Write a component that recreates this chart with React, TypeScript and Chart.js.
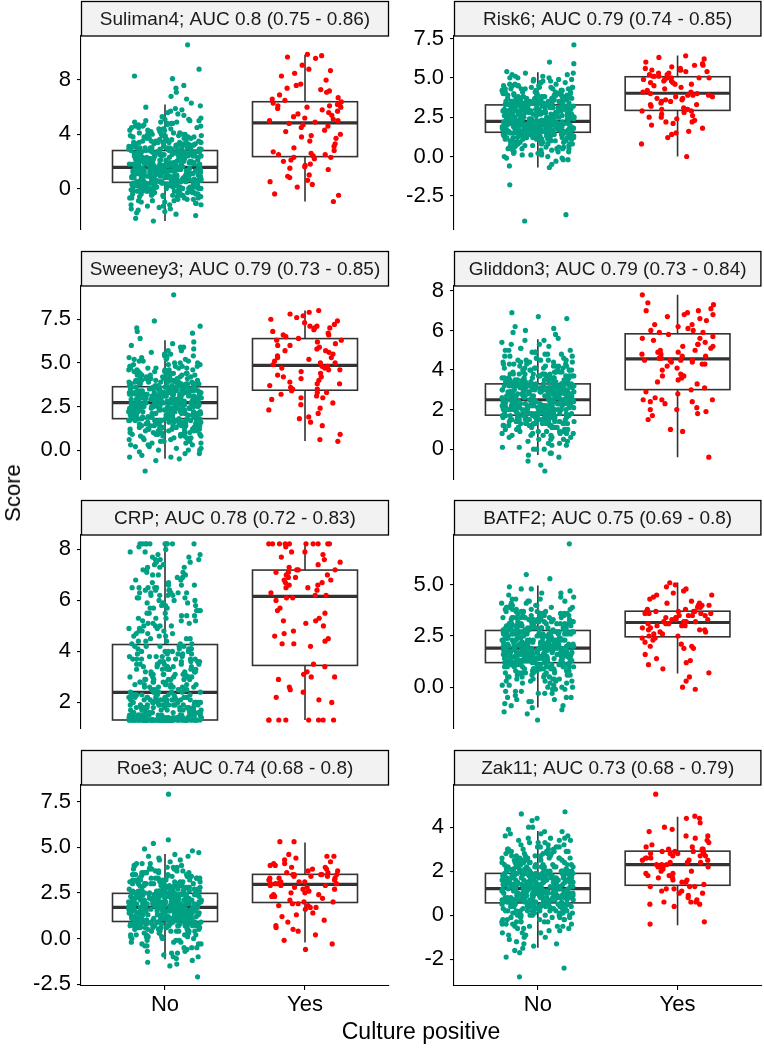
import React, { useEffect, useRef } from "react";
import { Chart, registerables } from "chart.js";

Chart.register(...registerables);

const FONT = "'Liberation Sans', Arial, Helvetica, sans-serif";

const groups = ["No", "Yes"];
const panelTitles = [
  "Suliman4; AUC 0.8 (0.75 - 0.86)",
  "Risk6; AUC 0.79 (0.74 - 0.85)",
  "Sweeney3; AUC 0.79 (0.73 - 0.85)",
  "Gliddon3; AUC 0.79 (0.73 - 0.84)",
  "CRP; AUC 0.78 (0.72 - 0.83)",
  "BATF2; AUC 0.75 (0.69 - 0.8)",
  "Roe3; AUC 0.74 (0.68 - 0.8)",
  "Zak11; AUC 0.73 (0.68 - 0.79)",
];

const yTickValues = [
  [0, 4, 8],
  [-2.5, 0, 2.5, 5, 7.5],
  [0, 2.5, 5, 7.5],
  [0, 2, 4, 6, 8],
  [2, 4, 6, 8],
  [0, 2.5, 5],
  [-2.5, 0, 2.5, 5, 7.5],
  [-2, 0, 2, 4],
];
const yTickLabels = [
  ["0", "4", "8"],
  ["-2.5", "0.0", "2.5", "5.0", "7.5"],
  ["0.0", "2.5", "5.0", "7.5"],
  ["0", "2", "4", "6", "8"],
  ["2", "4", "6", "8"],
  ["0.0", "2.5", "5.0"],
  ["-2.5", "0.0", "2.5", "5.0", "7.5"],
  ["-2", "0", "2", "4"],
];

// [lower whisker, Q1, median, Q3, upper whisker]
const boxNo = [
  [-2.4, 0.45, 1.56, 2.8, 6.2],
  [-0.7, 1.54, 2.23, 3.28, 5.35],
  [-0.5, 1.8, 2.72, 3.63, 6.3],
  [-0.29, 1.72, 2.5, 3.3, 5.56],
  [1.31, 1.31, 2.39, 4.27, 8.22],
  [-0.99, 1.2, 1.91, 2.77, 4.96],
  [-1.13, 0.93, 1.7, 2.47, 4.62],
  [-1.48, 0.56, 1.21, 1.9, 3.82],
];
const boxYes = [
  [-0.96, 2.35, 4.84, 6.4, 9.85],
  [0.0, 2.93, 4.02, 5.07, 6.42],
  [0.52, 3.43, 4.85, 6.39, 8.0],
  [-0.41, 3.01, 4.56, 5.83, 7.8],
  [1.31, 3.45, 6.16, 7.19, 8.22],
  [0.67, 2.46, 3.16, 3.71, 5.11],
  [-0.22, 1.97, 2.96, 3.51, 5.26],
  [-0.45, 1.36, 2.3, 2.91, 4.47],
];

const suliman4No = [
-2.4,-2.2,-2.0,-1.8,-1.7,-1.6,-1.5,-1.4,-1.3,-1.3,-1.2,-1.2,-1.1,-1.0,-1.0,-0.9,-0.9,-0.8,-0.8,-0.7,
-0.7,-0.7,-0.6,-0.6,-0.6,-0.5,-0.5,-0.5,-0.4,-0.4,-0.4,-0.3,-0.3,-0.3,-0.3,-0.2,-0.2,-0.2,-0.2,-0.1,
-0.1,-0.1,-0.1,0,0,0,0,0,0.1,0.1,0.1,0.1,0.1,0.2,0.2,0.2,0.2,0.2,0.3,0.3,
0.3,0.3,0.3,0.3,0.4,0.4,0.4,0.4,0.4,0.4,0.5,0.5,0.5,0.5,0.5,0.6,0.6,0.6,0.6,0.6,
0.6,0.6,0.7,0.7,0.7,0.7,0.7,0.7,0.7,0.8,0.8,0.8,0.8,0.8,0.8,0.8,0.9,0.9,0.9,0.9,
0.9,0.9,0.9,1.0,1.0,1.0,1.0,1.0,1.0,1.0,1.1,1.1,1.1,1.1,1.1,1.1,1.1,1.2,1.2,1.2,
1.2,1.2,1.2,1.2,1.3,1.3,1.3,1.3,1.3,1.3,1.3,1.4,1.4,1.4,1.4,1.4,1.4,1.4,1.5,1.5,
1.5,1.5,1.5,1.5,1.6,1.6,1.6,1.6,1.6,1.6,1.7,1.7,1.7,1.7,1.7,1.7,1.7,1.8,1.8,1.8,
1.8,1.8,1.8,1.8,1.9,1.9,1.9,1.9,1.9,1.9,1.9,2.0,2.0,2.0,2.0,2.0,2.0,2.0,2.1,2.1,
2.1,2.1,2.1,2.1,2.2,2.2,2.2,2.2,2.2,2.2,2.3,2.3,2.3,2.3,2.3,2.3,2.4,2.4,2.4,2.4,
2.4,2.4,2.5,2.5,2.5,2.5,2.5,2.5,2.6,2.6,2.6,2.6,2.6,2.6,2.7,2.7,2.7,2.7,2.7,2.7,
2.8,2.8,2.8,2.8,2.8,2.9,2.9,2.9,2.9,2.9,3.0,3.0,3.0,3.0,3.0,3.1,3.1,3.1,3.1,3.2,
3.2,3.2,3.2,3.3,3.3,3.3,3.3,3.4,3.4,3.4,3.4,3.5,3.5,3.5,3.6,3.6,3.6,3.7,3.7,3.7,
3.8,3.8,3.8,3.9,3.9,3.9,4.0,4.0,4.0,4.1,4.1,4.2,4.2,4.3,4.3,4.4,4.4,4.5,4.5,4.6,
4.6,4.7,4.7,4.8,4.8,4.9,4.9,5.0,5.0,5.1,5.2,5.3,5.5,5.7,5.8,5.9,6.0,6.1,6.3,6.6,
6.8,7.1,7.4,7.6,8.1,8.3,8.8,10.6,
-1.9,-1.5,-1.2,-1.1,-0.9,-0.8,-0.7,-0.6,-0.5,-0.5,-0.4,-0.4,-0.3,-0.3,-0.2,-0.2,-0.2,-0.1,-0.1,-0.1,
0,0,0,0.1,0.1,0.1,0.1,0.2,0.2,0.2,0.2,0.3,0.3,0.3,0.3,0.3,0.4,0.4,0.4,0.4,0.4,0.5,0.5,0.5,0.5,
0.6,0.6,0.6,0.6,0.7,0.7,0.7,0.7,0.8,0.8,0.8,0.8,0.9,0.9,0.9,0.9,1.0,1.0,1.0,1.0,
1.1,1.1,1.1,1.1,1.2,1.2,1.2,1.2,1.3,1.3,1.3,1.3,1.4,1.4,1.4,1.4,1.5,1.5,1.5,1.5,1.1,1.2,1.3,1.4,1.5,
1.6,1.6,1.6,1.7,1.7,1.7,1.8,1.8,1.8,1.9,1.9,1.9,2.0,2.0,2.0,2.1,2.1,2.1,2.2,2.2,2.2,
2.3,2.3,2.3,2.4,2.4,2.4,2.5,2.5,2.5,2.6,2.6,2.6,2.7,2.7,2.7,2.8,2.8,2.8,1.7,1.9,2.1,2.3,2.5,2.7,
2.9,2.9,2.9,3.0,3.0,3.0,3.1,3.1,3.1,3.2,3.2,3.2,3.3,3.3,3.4,3.4,3.5,3.5,3.6,3.6,3.7,3.7,
3.8,3.8,3.9,3.9,4.0,4.0,4.1,4.2,4.3,4.4,4.5,4.6,4.7,4.8,4.9,5.0,5.1,5.4,3.0,3.2,3.4,3.6,5.6,
];
const suliman4Yes = [
-0.96,-0.5,-0.4,0.1,0.3,0.5,0.6,0.8,0.9,1.0,1.4,1.5,1.6,1.7,1.8,2.0,2.1,2.2,2.3,2.3,
2.4,2.5,2.5,2.6,2.7,2.8,3.0,3.1,3.3,3.5,3.7,3.8,3.9,4.0,4.2,4.3,4.5,4.6,4.7,4.8,
4.9,5.0,5.0,5.1,5.2,5.3,5.4,5.5,5.6,5.7,5.8,5.9,6.0,6.0,6.1,6.1,6.2,6.3,6.3,6.4,
6.5,6.6,6.7,6.9,7.1,7.2,7.3,7.4,7.6,7.7,8.0,8.3,8.5,8.7,8.8,9.1,9.6,9.7,9.8,9.9,
];

const risk6No = [
-4.1,-3.7,-1.8,-0.7,-0.6,-0.3,-0.2,-0.1,-0.1,0,0.1,0.1,0.2,0.2,0.3,0.3,0.4,0.4,0.5,0.5,
0.5,0.6,0.6,0.6,0.7,0.7,0.7,0.8,0.8,0.8,0.8,0.9,0.9,0.9,0.9,1.0,1.0,1.0,1.0,1.0,
1.1,1.1,1.1,1.1,1.1,1.2,1.2,1.2,1.2,1.2,1.2,1.3,1.3,1.3,1.3,1.3,1.3,1.4,1.4,1.4,
1.4,1.4,1.4,1.5,1.5,1.5,1.5,1.5,1.5,1.5,1.6,1.6,1.6,1.6,1.6,1.6,1.6,1.6,1.6,1.6,
1.6,1.7,1.7,1.7,1.7,1.7,1.7,1.7,1.7,1.7,1.7,1.7,1.8,1.8,1.8,1.8,1.8,1.8,1.8,1.8,
1.8,1.8,1.8,1.9,1.9,1.9,1.9,1.9,1.9,1.9,1.9,1.9,1.9,1.9,2.0,2.0,2.0,2.0,2.0,2.0,
2.0,2.0,2.0,2.0,2.0,2.1,2.1,2.1,2.1,2.1,2.1,2.1,2.1,2.1,2.1,2.2,2.2,2.2,2.2,2.2,
2.2,2.2,2.2,2.2,2.2,2.3,2.3,2.3,2.3,2.3,2.3,2.3,2.4,2.4,2.4,2.4,2.4,2.4,2.4,2.5,
2.5,2.5,2.5,2.5,2.5,2.5,2.6,2.6,2.6,2.6,2.6,2.6,2.6,2.7,2.7,2.7,2.7,2.7,2.7,2.7,
2.8,2.8,2.8,2.8,2.8,2.8,2.8,2.9,2.9,2.9,2.9,2.9,2.9,2.9,3.0,3.0,3.0,3.0,3.0,3.0,
3.0,3.1,3.1,3.1,3.1,3.1,3.1,3.2,3.2,3.2,3.2,3.2,3.2,3.3,3.3,3.3,3.3,3.3,3.3,3.4,
3.4,3.4,3.4,3.4,3.4,3.5,3.5,3.5,3.5,3.5,3.5,3.6,3.6,3.6,3.6,3.6,3.7,3.7,3.7,3.7,
3.7,3.8,3.8,3.8,3.8,3.8,3.9,3.9,3.9,3.9,3.9,4.0,4.0,4.0,4.0,4.1,4.1,4.1,4.1,4.2,
4.2,4.2,4.2,4.3,4.3,4.3,4.3,4.4,4.4,4.4,4.5,4.5,4.5,4.6,4.6,4.7,4.7,4.8,4.8,4.9,
4.9,5.0,5.0,5.1,5.1,5.2,5.3,5.4,5.9,6.0,7.1,
-0.5,-0.2,0,0.1,0.2,0.3,0.4,0.5,0.5,0.6,0.6,0.7,0.7,0.8,0.8,0.9,0.9,0.9,1.0,1.0,
1.0,1.1,1.1,1.1,1.2,1.2,1.2,1.2,1.3,1.3,1.3,1.3,1.4,1.4,1.4,1.4,1.4,1.5,1.5,1.5,1.5,1.5,1.2,1.3,1.4,
1.6,1.6,1.6,1.6,1.6,1.6,1.7,1.7,1.7,1.7,1.7,1.7,1.8,1.8,1.8,1.8,1.8,1.8,1.9,1.9,1.9,1.9,1.9,1.9,
2.0,2.0,2.0,2.0,2.0,2.0,2.1,2.1,2.1,2.1,2.1,2.1,2.2,2.2,2.2,2.2,2.2,2.2,1.8,1.9,2.0,
2.3,2.3,2.3,2.3,2.4,2.4,2.4,2.4,2.5,2.5,2.5,2.5,2.6,2.6,2.6,2.6,2.7,2.7,2.7,2.7,
2.8,2.8,2.8,2.8,2.9,2.9,2.9,2.9,3.0,3.0,3.0,3.0,3.1,3.1,3.1,3.1,3.2,3.2,3.2,3.2,2.4,2.6,2.8,3.0,3.2,
3.3,3.3,3.3,3.3,3.4,3.4,3.4,3.4,3.5,3.5,3.5,3.6,3.6,3.6,3.7,3.7,3.7,3.8,3.8,3.8,3.9,3.9,3.9,
4.0,4.0,4.1,4.1,4.2,4.2,4.3,4.3,4.4,4.4,4.5,4.5,4.6,4.7,4.8,4.9,5.0,5.2,5.3,3.5,3.7,4.0,
];
const risk6Yes = [
0.0,0.8,1.2,1.4,1.5,1.6,1.8,2.0,2.1,2.2,2.2,2.3,2.4,2.5,2.5,2.6,2.7,2.8,2.9,2.9,
3.0,3.0,3.1,3.2,3.3,3.3,3.4,3.5,3.5,3.6,3.6,3.7,3.7,3.8,3.8,3.9,3.9,3.9,4.0,4.0,
4.1,4.1,4.2,4.3,4.4,4.5,4.6,4.6,4.7,4.7,4.8,4.8,4.9,4.9,5.0,5.0,5.0,5.0,5.1,5.1,
5.1,5.2,5.2,5.3,5.3,5.4,5.4,5.5,5.5,5.5,5.6,5.6,5.7,5.8,5.8,5.9,6.0,6.2,6.3,6.4,
];

const sweeney3No = [
-1.2,-0.6,-0.5,-0.4,-0.3,-0.2,-0.1,0,0,0.1,0.2,0.2,0.3,0.3,0.4,0.4,0.5,0.5,0.6,0.6,
0.6,0.7,0.7,0.8,0.8,0.8,0.9,0.9,0.9,1.0,1.0,1.0,1.1,1.1,1.1,1.2,1.2,1.2,1.2,1.3,
1.3,1.3,1.3,1.4,1.4,1.4,1.4,1.4,1.5,1.5,1.5,1.5,1.5,1.6,1.6,1.6,1.6,1.6,1.7,1.7,
1.7,1.7,1.7,1.7,1.8,1.8,1.8,1.8,1.8,1.8,1.9,1.9,1.9,1.9,1.9,1.9,1.9,1.9,2.0,2.0,
2.0,2.0,2.0,2.0,2.0,2.0,2.1,2.1,2.1,2.1,2.1,2.1,2.1,2.1,2.2,2.2,2.2,2.2,2.2,2.2,
2.2,2.2,2.3,2.3,2.3,2.3,2.3,2.3,2.3,2.3,2.4,2.4,2.4,2.4,2.4,2.4,2.4,2.4,2.5,2.5,
2.5,2.5,2.5,2.5,2.5,2.5,2.5,2.6,2.6,2.6,2.6,2.6,2.6,2.6,2.6,2.6,2.7,2.7,2.7,2.7,
2.7,2.7,2.7,2.7,2.7,2.8,2.8,2.8,2.8,2.8,2.8,2.8,2.8,2.8,2.9,2.9,2.9,2.9,2.9,2.9,
2.9,2.9,2.9,3.0,3.0,3.0,3.0,3.0,3.0,3.0,3.0,3.1,3.1,3.1,3.1,3.1,3.1,3.1,3.1,3.2,
3.2,3.2,3.2,3.2,3.2,3.2,3.2,3.3,3.3,3.3,3.3,3.3,3.3,3.3,3.3,3.4,3.4,3.4,3.4,3.4,
3.4,3.4,3.4,3.5,3.5,3.5,3.5,3.5,3.5,3.5,3.5,3.6,3.6,3.6,3.6,3.6,3.6,3.6,3.6,3.7,
3.7,3.7,3.7,3.7,3.7,3.8,3.8,3.8,3.8,3.8,3.8,3.9,3.9,3.9,3.9,3.9,4.0,4.0,4.0,4.0,
4.0,4.1,4.1,4.1,4.1,4.1,4.2,4.2,4.2,4.2,4.3,4.3,4.3,4.3,4.4,4.4,4.4,4.4,4.5,4.5,
4.5,4.6,4.6,4.6,4.7,4.7,4.7,4.8,4.8,4.8,4.9,4.9,5.0,5.0,5.1,5.1,5.2,5.2,5.3,5.3,
5.4,5.4,5.5,5.6,5.7,5.8,5.9,6.0,6.2,6.4,6.7,6.8,7.0,7.1,7.4,8.9,
-0.4,-0.2,0,0.1,0.3,0.4,0.5,0.6,0.7,0.7,0.8,0.8,0.9,0.9,1.0,1.0,1.1,1.1,1.1,1.2,
1.2,1.2,1.3,1.3,1.3,1.4,1.4,1.4,1.4,1.5,1.5,1.5,1.5,1.6,1.6,1.6,1.6,1.7,1.7,1.7,1.7,1.8,1.8,1.8,1.8,
1.9,1.9,1.9,1.9,1.9,2.0,2.0,2.0,2.0,2.0,2.1,2.1,2.1,2.1,2.1,2.2,2.2,2.2,2.2,2.2,
2.3,2.3,2.3,2.3,2.3,2.4,2.4,2.4,2.4,2.4,2.5,2.5,2.5,2.5,2.5,2.6,2.6,2.6,2.6,2.6,2.7,2.7,2.7,2.7,2.7,
2.8,2.8,2.8,2.8,2.8,2.9,2.9,2.9,2.9,2.9,3.0,3.0,3.0,3.0,3.0,3.1,3.1,3.1,3.1,3.1,
3.2,3.2,3.2,3.2,3.2,3.3,3.3,3.3,3.3,3.3,3.4,3.4,3.4,3.4,3.4,3.5,3.5,3.5,3.5,3.5,3.6,3.6,3.6,3.6,3.6,
3.7,3.7,3.7,3.7,3.8,3.8,3.8,3.8,3.9,3.9,3.9,4.0,4.0,4.0,4.1,4.1,4.1,4.2,4.2,4.2,
4.3,4.3,4.4,4.4,4.5,4.5,4.6,4.6,4.7,4.7,4.8,4.8,4.9,5.0,5.1,5.2,5.3,5.4,5.5,5.7,5.9,6.1,3.9,4.1,4.4,
];
const sweeney3Yes = [
0.5,0.6,0.9,1.4,1.6,1.8,1.9,2.1,2.3,2.4,2.6,2.7,2.9,3.0,3.0,3.1,3.2,3.3,3.3,3.4,
3.5,3.5,3.6,3.7,3.8,3.8,3.9,4.0,4.1,4.2,4.2,4.3,4.4,4.5,4.6,4.6,4.7,4.7,4.8,4.8,
4.9,5.0,5.0,5.1,5.2,5.3,5.3,5.4,5.5,5.6,5.7,5.7,5.8,5.9,6.0,6.0,6.1,6.2,6.3,6.3,
6.4,6.5,6.6,6.6,6.7,6.8,6.9,7.0,7.0,7.1,7.1,7.2,7.3,7.4,7.5,7.6,7.7,7.8,7.9,8.0,
];

const gliddon3No = [
-1.1,-0.8,-0.6,-0.4,-0.3,-0.2,0,0,0.1,0.1,0.2,0.3,0.4,0.4,0.5,0.5,0.6,0.6,0.7,0.7,
0.7,0.8,0.8,0.8,0.9,0.9,0.9,1.0,1.0,1.0,1.0,1.1,1.1,1.1,1.1,1.2,1.2,1.2,1.2,1.2,
1.3,1.3,1.3,1.3,1.3,1.4,1.4,1.4,1.4,1.4,1.4,1.5,1.5,1.5,1.5,1.5,1.5,1.6,1.6,1.6,
1.6,1.6,1.6,1.6,1.7,1.7,1.7,1.7,1.7,1.7,1.7,1.8,1.8,1.8,1.8,1.8,1.8,1.8,1.8,1.8,
1.9,1.9,1.9,1.9,1.9,1.9,1.9,1.9,1.9,2.0,2.0,2.0,2.0,2.0,2.0,2.0,2.0,2.0,2.0,2.1,
2.1,2.1,2.1,2.1,2.1,2.1,2.1,2.1,2.1,2.2,2.2,2.2,2.2,2.2,2.2,2.2,2.2,2.2,2.2,2.3,
2.3,2.3,2.3,2.3,2.3,2.3,2.3,2.3,2.4,2.4,2.4,2.4,2.4,2.4,2.4,2.4,2.4,2.5,2.5,2.5,
2.5,2.5,2.5,2.5,2.5,2.5,2.6,2.6,2.6,2.6,2.6,2.6,2.6,2.6,2.6,2.6,2.7,2.7,2.7,2.7,
2.7,2.7,2.7,2.7,2.7,2.7,2.8,2.8,2.8,2.8,2.8,2.8,2.8,2.8,2.8,2.8,2.9,2.9,2.9,2.9,
2.9,2.9,2.9,2.9,2.9,3.0,3.0,3.0,3.0,3.0,3.0,3.0,3.0,3.0,3.1,3.1,3.1,3.1,3.1,3.1,
3.1,3.1,3.1,3.2,3.2,3.2,3.2,3.2,3.2,3.2,3.2,3.2,3.3,3.3,3.3,3.3,3.3,3.3,3.3,3.3,
3.3,3.4,3.4,3.4,3.4,3.4,3.4,3.5,3.5,3.5,3.5,3.5,3.5,3.6,3.6,3.6,3.6,3.6,3.7,3.7,
3.7,3.7,3.7,3.8,3.8,3.8,3.8,3.8,3.9,3.9,3.9,3.9,4.0,4.0,4.0,4.0,4.1,4.1,4.1,4.1,
4.2,4.2,4.2,4.3,4.3,4.3,4.4,4.4,4.4,4.5,4.5,4.5,4.6,4.6,4.7,4.7,4.8,4.8,4.9,4.9,
5.0,5.0,5.1,5.2,5.3,5.4,5.5,5.6,5.8,5.9,6.0,6.1,6.2,6.6,6.7,6.9,
-0.2,0,0.2,0.3,0.5,0.6,0.7,0.8,0.8,0.9,0.9,1.0,1.0,1.1,1.1,1.1,1.2,1.2,1.2,1.3,
1.3,1.3,1.3,1.4,1.4,1.4,1.4,1.5,1.5,1.5,1.5,1.5,1.6,1.6,1.6,1.6,1.6,1.7,1.7,1.7,1.7,1.7,1.6,1.5,1.4,
1.8,1.8,1.8,1.8,1.8,1.9,1.9,1.9,1.9,1.9,2.0,2.0,2.0,2.0,2.0,2.1,2.1,2.1,2.1,2.1,
2.2,2.2,2.2,2.2,2.2,2.3,2.3,2.3,2.3,2.3,2.4,2.4,2.4,2.4,2.4,2.5,2.5,2.5,2.5,2.5,1.9,2.1,2.2,2.3,2.4,
2.6,2.6,2.6,2.6,2.6,2.7,2.7,2.7,2.7,2.7,2.8,2.8,2.8,2.8,2.8,2.9,2.9,2.9,2.9,2.9,
3.0,3.0,3.0,3.0,3.0,3.1,3.1,3.1,3.1,3.1,3.2,3.2,3.2,3.2,3.2,3.3,3.3,3.3,3.3,3.3,2.7,2.8,2.9,3.0,3.1,
3.4,3.4,3.4,3.4,3.5,3.5,3.5,3.5,3.6,3.6,3.6,3.7,3.7,3.7,3.8,3.8,3.8,3.9,3.9,3.9,
4.0,4.0,4.1,4.1,4.2,4.2,4.3,4.3,4.4,4.4,4.5,4.5,4.6,4.7,4.8,4.9,5.0,5.1,5.3,5.5,3.4,3.6,3.8,4.0,4.2,
];
const gliddon3Yes = [
-0.4,0.9,1.0,1.5,1.7,1.8,1.9,2.0,2.0,2.1,2.3,2.4,2.4,2.5,2.5,2.5,2.6,2.8,2.9,3.0,
3.1,3.3,3.4,3.5,3.6,3.7,3.7,3.8,4.0,4.1,4.2,4.3,4.3,4.4,4.4,4.5,4.5,4.5,4.5,4.6,
4.6,4.7,4.7,4.8,4.8,4.9,4.9,5.0,5.0,5.1,5.2,5.2,5.3,5.3,5.4,5.5,5.6,5.6,5.7,5.8,
5.9,5.9,6.0,6.0,6.1,6.2,6.3,6.3,6.5,6.6,6.7,6.8,6.8,6.9,7.0,7.0,7.1,7.3,7.4,7.8,
];

const crpNo = [
1.31,1.31,1.31,1.31,1.31,1.31,1.31,1.31,1.31,1.31,1.31,1.31,1.31,1.31,1.31,1.31,1.31,1.31,1.31,1.31,
1.31,1.31,1.31,1.31,1.31,1.31,1.31,1.31,1.31,1.31,1.31,1.31,1.31,1.31,1.31,1.31,1.31,1.31,1.31,1.31,
1.31,1.31,1.31,1.31,1.31,1.31,1.31,1.31,1.31,1.31,1.31,1.31,1.31,1.31,1.31,1.31,1.31,1.31,1.31,1.31,
1.4,1.4,1.4,1.4,1.4,1.4,1.4,1.5,1.5,1.5,1.5,1.5,1.5,1.5,1.6,1.6,1.6,1.6,1.6,1.6,
1.6,1.7,1.7,1.7,1.7,1.7,1.7,1.7,1.8,1.8,1.8,1.8,1.8,1.8,1.8,1.9,1.9,1.9,1.9,1.9,
1.9,1.9,2.0,2.0,2.0,2.0,2.0,2.0,2.0,2.1,2.1,2.1,2.1,2.1,2.1,2.1,2.2,2.2,2.2,2.2,
2.2,2.2,2.2,2.3,2.3,2.3,2.3,2.3,2.3,2.3,
2.4,2.4,2.4,2.4,2.4,2.5,2.5,2.5,2.5,2.5,2.6,2.6,2.6,2.6,2.6,
2.7,2.7,2.7,2.7,2.8,2.8,2.8,2.8,2.9,2.9,2.9,2.9,3.0,3.0,3.0,3.0,3.1,3.1,3.1,3.1,
3.2,3.2,3.2,3.2,3.3,3.3,3.3,3.3,3.4,3.4,3.4,3.4,3.5,3.5,3.5,3.5,3.6,3.6,3.6,3.6,
3.7,3.7,3.7,3.7,3.8,3.8,3.8,3.9,3.9,3.9,4.0,4.0,4.0,4.1,4.1,4.1,4.2,4.2,4.2,
4.3,4.3,4.4,4.4,4.5,4.5,4.6,4.6,4.7,4.7,4.8,4.8,4.9,4.9,5.0,5.0,5.1,5.1,5.2,5.2,
5.3,5.3,5.4,5.4,5.5,5.5,5.6,5.6,5.7,5.7,5.8,5.8,5.9,5.9,6.0,6.0,6.1,6.1,
6.2,6.2,6.2,6.3,6.3,6.3,6.4,6.4,6.4,6.5,6.5,6.5,
6.6,6.6,6.7,6.8,6.9,7.0,7.0,7.1,7.2,7.3,7.3,7.4,7.5,7.6,7.6,7.7,7.8,7.9,
8.22,8.22,8.22,8.22,8.22,8.22,8.22,
1.31,1.31,1.31,1.31,1.31,1.31,1.31,1.31,1.31,1.31,1.31,1.31,1.31,1.31,1.31,
1.31,1.31,1.31,1.31,1.31,1.31,1.31,1.31,1.31,1.31,1.31,1.31,1.31,1.31,1.31,
1.4,1.4,1.4,1.4,1.4,1.5,1.5,1.5,1.5,1.5,1.6,1.6,1.6,1.6,1.6,
1.4,1.4,1.4,1.4,1.5,1.5,1.5,1.5,1.6,1.6,1.6,1.6,1.7,1.7,1.7,1.7,1.8,1.8,1.8,1.8,
1.9,1.9,1.9,1.9,2.0,2.0,2.0,2.0,2.1,2.1,2.1,2.1,2.2,2.2,2.2,2.2,2.3,2.3,2.3,2.3,1.5,1.7,1.9,2.1,2.3,
2.4,2.4,2.5,2.5,2.6,2.6,2.7,2.7,2.8,2.8,2.9,2.9,3.0,3.0,3.1,3.1,3.2,3.2,3.3,3.3,
3.4,3.4,3.5,3.5,3.6,3.6,3.7,3.7,3.8,3.8,3.9,3.9,4.0,4.0,4.1,4.1,4.2,4.2,2.5,2.7,2.9,3.1,3.3,3.5,3.7,
4.3,4.4,4.5,4.6,4.7,4.8,4.9,5.0,5.1,5.2,5.3,5.4,5.5,5.6,5.7,5.8,5.9,6.0,6.1,6.2,
6.3,6.4,6.5,6.6,6.7,6.8,6.9,7.0,7.1,7.2,7.3,7.4,7.5,7.6,7.7,7.8,7.9,8.0,8.1,
8.22,8.22,8.22,5.0,6.3,6.5,
];
const crpYes = [
1.31,1.31,1.31,1.31,1.31,1.31,1.31,1.31,2.0,2.1,2.2,2.4,2.5,2.6,2.9,3.0,3.0,3.1,3.2,3.4,
3.5,4.2,4.3,4.3,4.4,4.5,4.6,4.7,4.8,5.0,5.1,5.2,5.2,5.3,5.5,5.6,5.7,6.0,6.1,6.1,
6.2,6.2,6.3,6.4,6.5,6.5,6.6,6.6,6.7,6.7,6.8,6.8,6.9,6.9,7.0,7.0,7.1,7.1,7.2,7.2,
7.2,7.3,7.4,7.5,7.6,7.7,7.8,7.9,7.9,8.1,8.22,8.22,8.22,8.22,8.22,8.22,8.22,8.22,8.22,8.22,
];

const batf2No = [
-1.6,-1.3,-1.2,-1.1,-1.0,-0.9,-0.8,-0.7,-0.6,-0.6,-0.5,-0.5,-0.4,-0.3,-0.3,-0.2,-0.2,-0.1,-0.1,0,
0,0.1,0.1,0.2,0.2,0.3,0.3,0.3,0.4,0.4,0.4,0.5,0.5,0.5,0.6,0.6,0.6,0.7,0.7,0.7,
0.7,0.8,0.8,0.8,0.8,0.9,0.9,0.9,0.9,0.9,1.0,1.0,1.0,1.0,1.0,1.1,1.1,1.1,1.1,1.1,
1.1,1.2,1.2,1.2,1.2,1.2,1.2,1.3,1.3,1.3,1.3,1.3,1.3,1.3,1.3,1.3,1.3,1.4,1.4,1.4,
1.4,1.4,1.4,1.4,1.4,1.4,1.4,1.4,1.5,1.5,1.5,1.5,1.5,1.5,1.5,1.5,1.5,1.5,1.5,1.6,
1.6,1.6,1.6,1.6,1.6,1.6,1.6,1.6,1.6,1.6,1.7,1.7,1.7,1.7,1.7,1.7,1.7,1.7,1.7,1.7,
1.7,1.8,1.8,1.8,1.8,1.8,1.8,1.8,1.8,1.8,1.8,1.8,1.9,1.9,1.9,1.9,1.9,1.9,1.9,1.9,
1.9,1.9,2.0,2.0,2.0,2.0,2.0,2.0,2.0,2.0,2.0,2.1,2.1,2.1,2.1,2.1,2.1,2.1,2.1,2.1,
2.2,2.2,2.2,2.2,2.2,2.2,2.2,2.2,2.2,2.3,2.3,2.3,2.3,2.3,2.3,2.3,2.3,2.4,2.4,2.4,
2.4,2.4,2.4,2.4,2.4,2.5,2.5,2.5,2.5,2.5,2.5,2.5,2.5,2.6,2.6,2.6,2.6,2.6,2.6,2.6,
2.6,2.7,2.7,2.7,2.7,2.7,2.7,2.7,2.7,2.8,2.8,2.8,2.8,2.8,2.8,2.8,2.9,2.9,2.9,2.9,
2.9,2.9,2.9,3.0,3.0,3.0,3.0,3.0,3.0,3.1,3.1,3.1,3.1,3.1,3.1,3.2,3.2,3.2,3.2,3.2,
3.2,3.3,3.3,3.3,3.3,3.3,3.4,3.4,3.4,3.4,3.4,3.5,3.5,3.5,3.5,3.5,3.6,3.6,3.6,3.6,
3.7,3.7,3.7,3.7,3.8,3.8,3.8,3.9,3.9,3.9,4.0,4.0,4.0,4.1,4.1,4.2,4.2,4.3,4.3,4.4,
4.5,4.6,4.7,4.8,4.9,5.3,5.5,7.0,
-0.9,-0.7,-0.5,-0.3,-0.2,-0.1,0,0.1,0.2,0.3,0.3,0.4,0.4,0.5,0.5,0.6,0.6,0.6,0.7,0.7,
0.7,0.8,0.8,0.8,0.8,0.9,0.9,0.9,0.9,1.0,1.0,1.0,1.0,1.0,1.1,1.1,1.1,1.1,1.1,1.2,1.2,1.2,1.2,1.2,1.1,
1.3,1.3,1.3,1.3,1.3,1.3,1.4,1.4,1.4,1.4,1.4,1.4,1.5,1.5,1.5,1.5,1.5,1.5,1.6,1.6,1.6,
1.6,1.6,1.6,1.7,1.7,1.7,1.7,1.7,1.7,1.8,1.8,1.8,1.8,1.8,1.8,1.9,1.9,1.9,1.9,1.9,1.9,1.4,1.6,1.8,
2.0,2.0,2.0,2.0,2.0,2.1,2.1,2.1,2.1,2.1,2.2,2.2,2.2,2.2,2.2,2.3,2.3,2.3,2.3,2.3,
2.4,2.4,2.4,2.4,2.4,2.5,2.5,2.5,2.5,2.5,2.6,2.6,2.6,2.6,2.6,2.7,2.7,2.7,2.7,2.7,2.0,2.2,2.4,2.6,2.7,
2.8,2.8,2.8,2.8,2.9,2.9,2.9,2.9,3.0,3.0,3.0,3.0,3.1,3.1,3.1,3.2,3.2,3.2,3.3,3.3,3.3,
3.4,3.4,3.4,3.5,3.5,3.6,3.6,3.7,3.7,3.8,3.8,3.9,3.9,4.0,4.1,4.2,4.3,4.4,4.6,3.0,3.2,3.4,3.6,4.8,
];
const batf2Yes = [
-0.1,0.0,0.3,0.5,0.7,0.9,1.1,1.2,1.3,1.4,1.6,1.9,1.9,2.0,2.0,2.1,2.2,2.3,2.4,2.4,
2.5,2.5,2.6,2.6,2.7,2.7,2.8,2.8,2.8,2.9,2.9,3.0,3.0,3.0,3.1,3.1,3.1,3.2,3.2,3.2,
3.2,3.3,3.3,3.3,3.4,3.4,3.4,3.5,3.5,3.5,3.5,3.6,3.6,3.6,3.6,3.7,3.7,3.7,3.7,3.7,
3.8,3.8,3.9,3.9,4.0,4.0,4.0,4.1,4.1,4.2,4.3,4.4,4.5,4.5,4.6,4.7,4.8,4.9,5.0,5.1,
];

const roe3No = [
-2.1,-1.5,-1.4,-1.3,-1.2,-1.1,-1.0,-0.9,-0.8,-0.8,-0.7,-0.6,-0.5,-0.5,-0.4,-0.4,-0.3,-0.3,-0.2,-0.2,
-0.1,-0.1,0,0,0.1,0.1,0.1,0.2,0.2,0.2,0.3,0.3,0.3,0.4,0.4,0.4,0.5,0.5,0.5,0.5,
0.6,0.6,0.6,0.6,0.6,0.7,0.7,0.7,0.7,0.7,0.7,0.8,0.8,0.8,0.8,0.8,0.8,0.8,0.9,0.9,
0.9,0.9,0.9,0.9,0.9,0.9,1.0,1.0,1.0,1.0,1.0,1.0,1.0,1.0,1.0,1.1,1.1,1.1,1.1,1.1,
1.1,1.1,1.1,1.1,1.2,1.2,1.2,1.2,1.2,1.2,1.2,1.2,1.2,1.2,1.3,1.3,1.3,1.3,1.3,1.3,
1.3,1.3,1.3,1.3,1.4,1.4,1.4,1.4,1.4,1.4,1.4,1.4,1.4,1.4,1.5,1.5,1.5,1.5,1.5,1.5,
1.5,1.5,1.5,1.5,1.6,1.6,1.6,1.6,1.6,1.6,1.6,1.6,1.6,1.7,1.7,1.7,1.7,1.7,1.7,1.7,
1.7,1.7,1.8,1.8,1.8,1.8,1.8,1.8,1.8,1.8,1.8,1.8,1.9,1.9,1.9,1.9,1.9,1.9,1.9,1.9,
1.9,1.9,2.0,2.0,2.0,2.0,2.0,2.0,2.0,2.0,2.0,2.0,2.1,2.1,2.1,2.1,2.1,2.1,2.1,2.1,
2.1,2.2,2.2,2.2,2.2,2.2,2.2,2.2,2.2,2.2,2.3,2.3,2.3,2.3,2.3,2.3,2.3,2.3,2.3,2.4,
2.4,2.4,2.4,2.4,2.4,2.4,2.4,2.4,2.5,2.5,2.5,2.5,2.5,2.5,2.5,2.5,2.5,2.6,2.6,2.6,
2.6,2.6,2.6,2.6,2.7,2.7,2.7,2.7,2.7,2.7,2.7,2.8,2.8,2.8,2.8,2.8,2.8,2.9,2.9,2.9,
2.9,2.9,2.9,3.0,3.0,3.0,3.0,3.0,3.0,3.1,3.1,3.1,3.1,3.1,3.2,3.2,3.2,3.2,3.2,3.3,
3.3,3.3,3.3,3.4,3.4,3.4,3.4,3.5,3.5,3.5,3.5,3.6,3.6,3.6,3.7,3.7,3.7,3.8,3.8,3.8,
3.9,3.9,3.9,4.0,4.0,4.1,4.1,4.2,4.3,4.4,4.5,4.6,4.7,4.8,4.9,5.2,5.4,7.9,
-1.0,-0.7,-0.5,-0.3,-0.2,-0.1,0,0.1,0.1,0.2,0.2,0.3,0.3,0.4,0.4,0.4,0.5,0.5,0.5,0.6,
0.6,0.6,0.6,0.7,0.7,0.7,0.7,0.8,0.8,0.8,0.8,0.8,0.9,0.9,0.9,0.9,0.9,0.9,0.8,0.7,0.6,0.5,0.4,0.9,0.8,
1.0,1.0,1.0,1.0,1.0,1.1,1.1,1.1,1.1,1.1,1.2,1.2,1.2,1.2,1.2,1.3,1.3,1.3,1.3,1.3,
1.4,1.4,1.4,1.4,1.4,1.5,1.5,1.5,1.5,1.5,1.6,1.6,1.6,1.6,1.6,1.7,1.7,1.7,1.7,1.7,1.1,1.3,1.4,1.5,1.6,
1.8,1.8,1.8,1.8,1.8,1.8,1.9,1.9,1.9,1.9,1.9,1.9,2.0,2.0,2.0,2.0,2.0,2.0,2.1,2.1,2.1,
2.1,2.1,2.1,2.2,2.2,2.2,2.2,2.2,2.2,2.3,2.3,2.3,2.3,2.3,2.3,2.4,2.4,2.4,2.4,2.4,2.4,1.9,2.1,2.3,
2.5,2.5,2.5,2.5,2.6,2.6,2.6,2.6,2.7,2.7,2.7,2.8,2.8,2.8,2.9,2.9,2.9,3.0,3.0,3.0,3.1,3.1,3.1,
3.2,3.2,3.3,3.3,3.4,3.4,3.5,3.5,3.6,3.6,3.7,3.8,3.9,4.0,4.1,4.3,4.5,2.6,2.8,3.0,3.3,3.6,
];
const roe3Yes = [
-0.6,-0.3,-0.1,0.2,0.4,0.5,0.6,0.7,0.9,1.0,1.2,1.3,1.4,1.6,1.7,1.7,1.8,1.8,1.9,1.9,
2.0,2.0,2.1,2.2,2.3,2.3,2.4,2.4,2.5,2.5,2.6,2.6,2.7,2.7,2.8,2.8,2.9,2.9,2.9,3.0,
3.0,3.0,3.0,3.1,3.1,3.1,3.2,3.2,3.2,3.3,3.3,3.3,3.4,3.4,3.4,3.5,3.5,3.5,3.5,3.5,
3.6,3.6,3.7,3.7,3.8,3.8,3.9,3.9,4.0,4.0,4.1,4.1,4.2,4.3,4.4,4.5,4.5,4.6,5.3,5.3,
];

const zak11No = [
-2.8,-2.4,-1.9,-1.7,-1.6,-1.5,-1.4,-1.3,-1.2,-1.1,-1.0,-0.9,-0.9,-0.8,-0.8,-0.7,-0.7,-0.6,-0.6,-0.5,
-0.5,-0.5,-0.4,-0.4,-0.4,-0.3,-0.3,-0.3,-0.2,-0.2,-0.2,-0.1,-0.1,-0.1,0,0,0,0,0.1,0.1,
0.1,0.1,0.2,0.2,0.2,0.2,0.2,0.3,0.3,0.3,0.3,0.3,0.4,0.4,0.4,0.4,0.4,0.4,0.5,0.5,
0.5,0.5,0.5,0.5,0.5,0.6,0.6,0.6,0.6,0.6,0.6,0.6,0.6,0.6,0.6,0.7,0.7,0.7,0.7,0.7,
0.7,0.7,0.7,0.7,0.7,0.7,0.8,0.8,0.8,0.8,0.8,0.8,0.8,0.8,0.8,0.8,0.8,0.9,0.9,0.9,
0.9,0.9,0.9,0.9,0.9,0.9,0.9,0.9,1.0,1.0,1.0,1.0,1.0,1.0,1.0,1.0,1.0,1.0,1.0,1.1,
1.1,1.1,1.1,1.1,1.1,1.1,1.1,1.1,1.1,1.1,1.2,1.2,1.2,1.2,1.2,1.2,1.2,1.2,1.2,1.2,
1.3,1.3,1.3,1.3,1.3,1.3,1.3,1.3,1.3,1.3,1.3,1.4,1.4,1.4,1.4,1.4,1.4,1.4,1.4,1.4,
1.4,1.4,1.5,1.5,1.5,1.5,1.5,1.5,1.5,1.5,1.5,1.5,1.5,1.6,1.6,1.6,1.6,1.6,1.6,1.6,
1.6,1.6,1.6,1.6,1.7,1.7,1.7,1.7,1.7,1.7,1.7,1.7,1.7,1.7,1.7,1.8,1.8,1.8,1.8,1.8,
1.8,1.8,1.8,1.8,1.8,1.9,1.9,1.9,1.9,1.9,1.9,1.9,1.9,1.9,1.9,2.0,2.0,2.0,2.0,2.0,
2.0,2.0,2.1,2.1,2.1,2.1,2.1,2.1,2.1,2.2,2.2,2.2,2.2,2.2,2.2,2.3,2.3,2.3,2.3,2.3,
2.3,2.4,2.4,2.4,2.4,2.4,2.5,2.5,2.5,2.5,2.5,2.6,2.6,2.6,2.6,2.7,2.7,2.7,2.7,2.8,
2.8,2.8,2.8,2.9,2.9,2.9,3.0,3.0,3.0,3.1,3.1,3.2,3.2,3.3,3.3,3.4,3.4,3.5,3.5,3.6,
3.7,3.7,3.8,3.9,4.0,4.0,4.3,4.4,4.6,4.7,
-1.3,-1.0,-0.8,-0.6,-0.5,-0.4,-0.3,-0.2,-0.2,-0.1,-0.1,0,0,0,0.1,0.1,0.1,0.2,0.2,0.2,
0.2,0.3,0.3,0.3,0.3,0.3,0.4,0.4,0.4,0.4,0.4,0.4,0.5,0.5,0.5,0.5,0.5,0.5,0.3,0.2,0.1,0,0.4,0.5,-0.3,
0.6,0.6,0.6,0.6,0.6,0.6,0.7,0.7,0.7,0.7,0.7,0.7,0.8,0.8,0.8,0.8,0.8,0.8,0.9,0.9,0.9,
0.9,0.9,0.9,1.0,1.0,1.0,1.0,1.0,1.0,1.1,1.1,1.1,1.1,1.1,1.1,1.2,1.2,1.2,1.2,1.2,1.2,0.8,1.0,1.1,
1.3,1.3,1.3,1.3,1.3,1.3,1.4,1.4,1.4,1.4,1.4,1.4,1.5,1.5,1.5,1.5,1.5,1.5,1.6,1.6,1.6,
1.6,1.6,1.6,1.7,1.7,1.7,1.7,1.7,1.7,1.8,1.8,1.8,1.8,1.8,1.8,1.9,1.9,1.9,1.9,1.9,1.9,1.4,1.6,1.8,
2.0,2.0,2.0,2.0,2.1,2.1,2.1,2.1,2.2,2.2,2.2,2.2,2.3,2.3,2.3,2.4,2.4,2.4,2.5,2.5,2.5,
2.6,2.6,2.6,2.7,2.7,2.8,2.8,2.9,2.9,3.0,3.0,3.1,3.1,3.2,3.3,3.4,3.5,3.6,3.8,2.0,2.2,2.4,2.6,2.9,
];
const zak11Yes = [
-0.4,-0.3,0.4,0.5,0.5,0.6,0.6,0.6,0.7,0.8,0.9,1.0,1.0,1.1,1.1,1.2,1.2,1.3,1.3,1.3,
1.4,1.5,1.5,1.6,1.6,1.7,1.7,1.8,1.8,1.9,1.9,2.0,2.0,2.1,2.1,2.2,2.2,2.2,2.3,2.3,
2.3,2.4,2.4,2.4,2.5,2.5,2.5,2.6,2.6,2.6,2.7,2.7,2.7,2.8,2.8,2.8,2.8,2.9,2.9,2.9,
2.9,3.0,3.0,3.0,3.1,3.1,3.2,3.3,3.4,3.5,3.6,3.6,3.8,3.9,4.0,4.2,4.4,4.4,4.5,5.5,
];

const noValues = [suliman4No, risk6No, sweeney3No, gliddon3No, crpNo, batf2No, roe3No, zak11No];
const yesValues = [suliman4Yes, risk6Yes, sweeney3Yes, gliddon3Yes, crpYes, batf2Yes, roe3Yes, zak11Yes];

const GREEN = "#00A085";
const RED = "#FF0000";
const BOX_LINE = "#333333";

// layout (pixels)
const COLS = [
  { left: 0, width: 392, axisWidth: 81, padRight: 3 },
  { left: 392, width: 372, axisWidth: 62, padRight: 2 },
];
const PLOT_TOPS = [36, 286, 535, 785];
const PLOT_H = 201;
const STRIP_H = 35;
const XAXIS_H = 32;
const JITTER_W = 0.26;
const BOX_HALF = 0.375;

// deterministic jitter offset in [0,1)
function jitter(i: number, seed: number) {
  let h = (i * 374761393 + seed * 668265263) | 0;
  h = Math.imul(h ^ (h >>> 13), 1274126177);
  h ^= h >>> 16;
  h = Math.imul(h, 2246822519);
  h ^= h >>> 13;
  return (h >>> 0) / 4294967296;
}

const boxPlugin = {
  id: "boxes",
  beforeDatasetsDraw(chart: any, _args: any, opts: any) {
    const { ctx } = chart;
    const xs = chart.scales.x;
    const ys = chart.scales.y;
    ctx.save();
    (opts.stats as number[][]).forEach((s, g) => {
      const [lo, q1, med, q3, hi] = s;
      const cx = xs.getPixelForValue(g + 1);
      const x0 = xs.getPixelForValue(g + 1 - BOX_HALF);
      const x1 = xs.getPixelForValue(g + 1 + BOX_HALF);
      const yq1 = ys.getPixelForValue(q1);
      const yq3 = ys.getPixelForValue(q3);
      ctx.strokeStyle = BOX_LINE;
      ctx.lineWidth = 1.6;
      ctx.beginPath();
      ctx.moveTo(cx, ys.getPixelForValue(hi));
      ctx.lineTo(cx, yq3);
      ctx.moveTo(cx, yq1);
      ctx.lineTo(cx, ys.getPixelForValue(lo));
      ctx.stroke();
      ctx.fillStyle = "#FFFFFF";
      ctx.fillRect(x0, yq3, x1 - x0, yq1 - yq3);
      ctx.strokeRect(x0, yq3, x1 - x0, yq1 - yq3);
      ctx.lineWidth = 3.2;
      ctx.beginPath();
      const ym = ys.getPixelForValue(med);
      ctx.moveTo(x0, ym);
      ctx.lineTo(x1, ym);
      ctx.stroke();
    });
    ctx.restore();
  },
};

const stripPlugin = {
  id: "strip",
  afterDraw(chart: any, _args: any, opts: any) {
    const { ctx, chartArea } = chart;
    const { left, right, top } = chartArea;
    ctx.save();
    ctx.fillStyle = "#F2F2F2";
    ctx.fillRect(left, top - STRIP_H, right - left, STRIP_H);
    ctx.strokeStyle = "#000000";
    ctx.lineWidth = 1.3;
    ctx.strokeRect(left + 0.5, top - STRIP_H + 0.5, right - left - 1, STRIP_H - 0.5);
    ctx.fillStyle = "#1A1A1A";
    ctx.font = `19px ${FONT}`;
    ctx.textAlign = "center";
    ctx.textBaseline = "middle";
    ctx.fillText(opts.text, (left + right) / 2, top - STRIP_H / 2 + 1);
    ctx.restore();
  },
};

function Panel({ index }: { index: number }) {
  const ref = useRef<HTMLCanvasElement>(null);
  const col = index % 2;
  const row = Math.floor(index / 2);
  const c = COLS[col];
  const top = PLOT_TOPS[row] - 36;
  const bottomRow = row === 3;
  const height = bottomRow ? 1049 - top : 249;

  useEffect(() => {
    const no = noValues[index];
    const yes = yesValues[index];
    const all = [...no, ...yes];
    const lo = Math.min(...all);
    const hi = Math.max(...all);
    const pad = (hi - lo) * 0.05;
    const tickVals = yTickValues[index];
    const tickLabs = yTickLabels[index];
    const padBottom = bottomRow ? height - 36 - PLOT_H - XAXIS_H : height - 36 - PLOT_H;

    const chart = new Chart(ref.current as HTMLCanvasElement, {
      type: "scatter",
      data: {
        datasets: [
          {
            data: no.map((v, k) => ({ x: 1 + (jitter(k, index * 2 + 1) - 0.5) * 2 * JITTER_W, y: v })),
            backgroundColor: GREEN,
            pointRadius: 2.6,
            pointHoverRadius: 2.6,
            pointBorderWidth: 0,
            borderWidth: 0,
          },
          {
            data: yes.map((v, k) => ({ x: 2 + (jitter(k, index * 2 + 2) - 0.5) * 2 * JITTER_W, y: v })),
            backgroundColor: RED,
            pointRadius: 2.6,
            pointHoverRadius: 2.6,
            pointBorderWidth: 0,
            borderWidth: 0,
          },
        ],
      },
      options: {
        animation: false,
        responsive: false,
        events: [],
        layout: { padding: { top: 36, left: 0, right: c.padRight, bottom: padBottom } },
        plugins: {
          legend: { display: false },
          tooltip: { enabled: false },
          boxes: { stats: [boxNo[index], boxYes[index]] },
          strip: { text: panelTitles[index] },
        } as any,
        scales: {
          x: {
            type: "linear",
            min: 0.4,
            max: 2.6,
            display: bottomRow,
            afterBuildTicks: (s: any) => {
              s.ticks = [{ value: 1 }, { value: 2 }];
            },
            afterFit: (s: any) => {
              s.height = bottomRow ? XAXIS_H : 0;
            },
            ticks: {
              callback: (v: any) => groups[Math.round(Number(v)) - 1] ?? "",
              font: { family: FONT, size: 22 },
              color: "#000000",
              padding: 2,
              maxRotation: 0,
              autoSkip: false,
            },
            grid: { drawOnChartArea: false, drawTicks: true, tickLength: 4, color: "#000000", lineWidth: 1.1 },
            border: { display: true, color: "#000000", width: 1.1 },
          },
          y: {
            type: "linear",
            min: lo - pad,
            max: hi + pad,
            afterBuildTicks: (s: any) => {
              s.ticks = tickVals.map((v) => ({ value: v }));
            },
            afterFit: (s: any) => {
              s.width = c.axisWidth;
            },
            ticks: {
              callback: (v: any) => {
                const k = tickVals.findIndex((t) => Math.abs(t - Number(v)) < 1e-9);
                return k >= 0 ? tickLabs[k] : "";
              },
              font: { family: FONT, size: 22 },
              color: "#000000",
              padding: 6,
              autoSkip: false,
            },
            grid: { drawOnChartArea: false, drawTicks: true, tickLength: 4, color: "#000000", lineWidth: 1.1 },
            border: { display: true, color: "#000000", width: 1.1 },
          },
        },
      } as any,
      plugins: [boxPlugin, stripPlugin],
    });
    return () => chart.destroy();
  }, [index]);

  return (
    <canvas
      ref={ref}
      width={c.width}
      height={height}
      style={{ position: "absolute", left: c.left, top, width: c.width, height }}
    />
  );
}

export default function App() {
  useEffect(() => {
    document.body.style.margin = "0";
  }, []);
  return (
    <div style={{ position: "absolute", left: 0, top: 0, width: 764, height: 1049, background: "#FFFFFF", overflow: "hidden" }}>
      {panelTitles.map((_, i) => (
        <Panel key={i} index={i} />
      ))}
      <div
        style={{
          position: "absolute",
          left: 13,
          top: 493,
          transform: "translate(-50%, -50%) rotate(-90deg)",
          fontFamily: FONT,
          fontSize: 22,
          color: "#000000",
          whiteSpace: "nowrap",
        }}
      >
        Score
      </div>
      <div
        style={{
          position: "absolute",
          left: 421,
          top: 1031,
          transform: "translate(-50%, -50%)",
          fontFamily: FONT,
          fontSize: 23,
          color: "#000000",
          whiteSpace: "nowrap",
        }}
      >
        Culture positive
      </div>
    </div>
  );
}
